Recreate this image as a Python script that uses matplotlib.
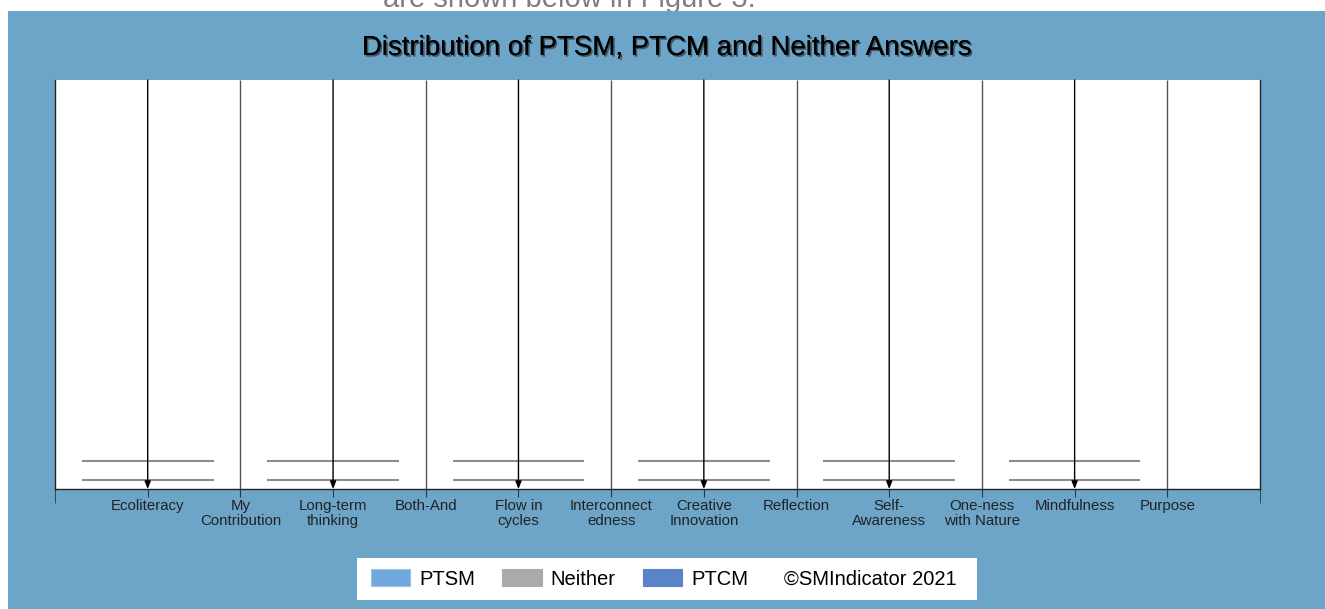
import matplotlib
matplotlib.use('Agg')
import matplotlib.pyplot as plt
import matplotlib.patheffects as pe
from matplotlib.patches import Patch, Rectangle

plt.rcParams['font.family'] = ['Liberation Sans', 'DejaVu Sans']

# --- data ---
categories = ['Ecoliteracy', 'My\nContribution', 'Long-term\nthinking', 'Both-And',
              'Flow in\ncycles', 'Interconnect\nedness', 'Creative\nInnovation',
              'Reflection', 'Self-\nAwareness', 'One-ness\nwith Nature',
              'Mindfulness', 'Purpose']
# categories drawn with an arrow + the two grey level lines
arrow_flags = [1, 0, 1, 0, 1, 0, 1, 0, 1, 0, 1, 0]
grey_levels = [0.022, 0.068]
half_width = 0.71

legend_labels = ['PTSM', 'Neither', 'PTCM']
legend_colors = ['#6fa8dc', '#aaaaaa', '#5b84c8']
copyright_txt = '\u00a9SMIndicator 2021'

BG = '#6da5c9'
W, H = 1325, 609

fig = plt.figure(figsize=(W / 100, H / 100), dpi=100)
fig.patch.set_facecolor('white')

# cut-off caption from the page above the chart
fig.text(383 / W, 1 - 7 / H, 'are shown below in Figure 3.', fontsize=21,
         color='#7f7f7f', ha='left', va='baseline', zorder=0)
fig.patches.append(Rectangle((8 / W, 0), 1 - 8 / W, 1 - 11 / H,
                             transform=fig.transFigure, facecolor=BG,
                             edgecolor='none', zorder=1))

fig.text(666 / W, 1 - 48 / H, 'Distribution of PTSM, PTCM and Neither Answers',
         fontsize=19.9, color='black', ha='center', va='center', zorder=3,
         path_effects=[pe.withSimplePatchShadow(offset=(1.2, -1.2),
                                                shadow_rgbFace='#222222', alpha=0.6),
                       pe.Normal()])

ax = fig.add_axes([55 / W, 1 - 489 / H, (1260 - 55) / W, (489 - 80) / H])
ax.set_zorder(2)
ax.set_facecolor('white')
ax.set_xlim(0, len(categories) + 1)
ax.set_ylim(0, 1)

xs = list(range(1, len(categories) + 1))
for x, flag in zip(xs, arrow_flags):
    if flag:
        for lvl in grey_levels:
            ax.hlines(lvl, x - half_width, x + half_width, color='#8c8c8c', lw=1.5, zorder=2)
        ax.annotate('', xy=(x, 0), xytext=(x, 1),
                    arrowprops=dict(arrowstyle='-|>,head_length=0.45,head_width=0.18',
                                    color='black', lw=1.0, shrinkA=0, shrinkB=0),
                    zorder=3)
    else:
        ax.vlines(x, 0, 1, color='#555555', lw=1.0, zorder=2)

ax.set_xticks(xs)
ax.set_xticklabels(categories, fontsize=10.8, color='#222222', linespacing=1.1)
ax.set_xticks([0, len(categories) + 1], minor=True)
ax.tick_params(axis='x', which='major', length=6, color='#333333', pad=1)
ax.tick_params(axis='x', which='minor', length=10, color='#333333')
ax.set_yticks([])
ax.spines['top'].set_visible(False)
for s in ['left', 'right', 'bottom']:
    ax.spines[s].set_color('#222222')
    ax.spines[s].set_linewidth(1.0)

# legend box
fig.patches.append(Rectangle((357 / W, 1 - 600 / H), (977 - 357) / W, (600 - 558) / H,
                             transform=fig.transFigure, facecolor='white',
                             edgecolor='none', zorder=2))
handles = [Patch(facecolor=c, edgecolor='#9cbfe0' if i == 0 else c, lw=0.8)
           for i, c in enumerate(legend_colors)]
leg = fig.legend(handles, legend_labels, loc='center left',
                 bbox_to_anchor=(371 / W, 1 - 579 / H), ncol=3, frameon=False,
                 fontsize=14.5, handlelength=1.95, handleheight=0.9,
                 handletextpad=0.45, columnspacing=1.35, borderpad=0,
                 borderaxespad=0)
leg.set_zorder(3)
fig.text(784 / W, 1 - 579 / H, copyright_txt, fontsize=14.5, color='black',
         ha='left', va='center', zorder=3)

fig.savefig('out.png', dpi=100, facecolor=fig.get_facecolor())
